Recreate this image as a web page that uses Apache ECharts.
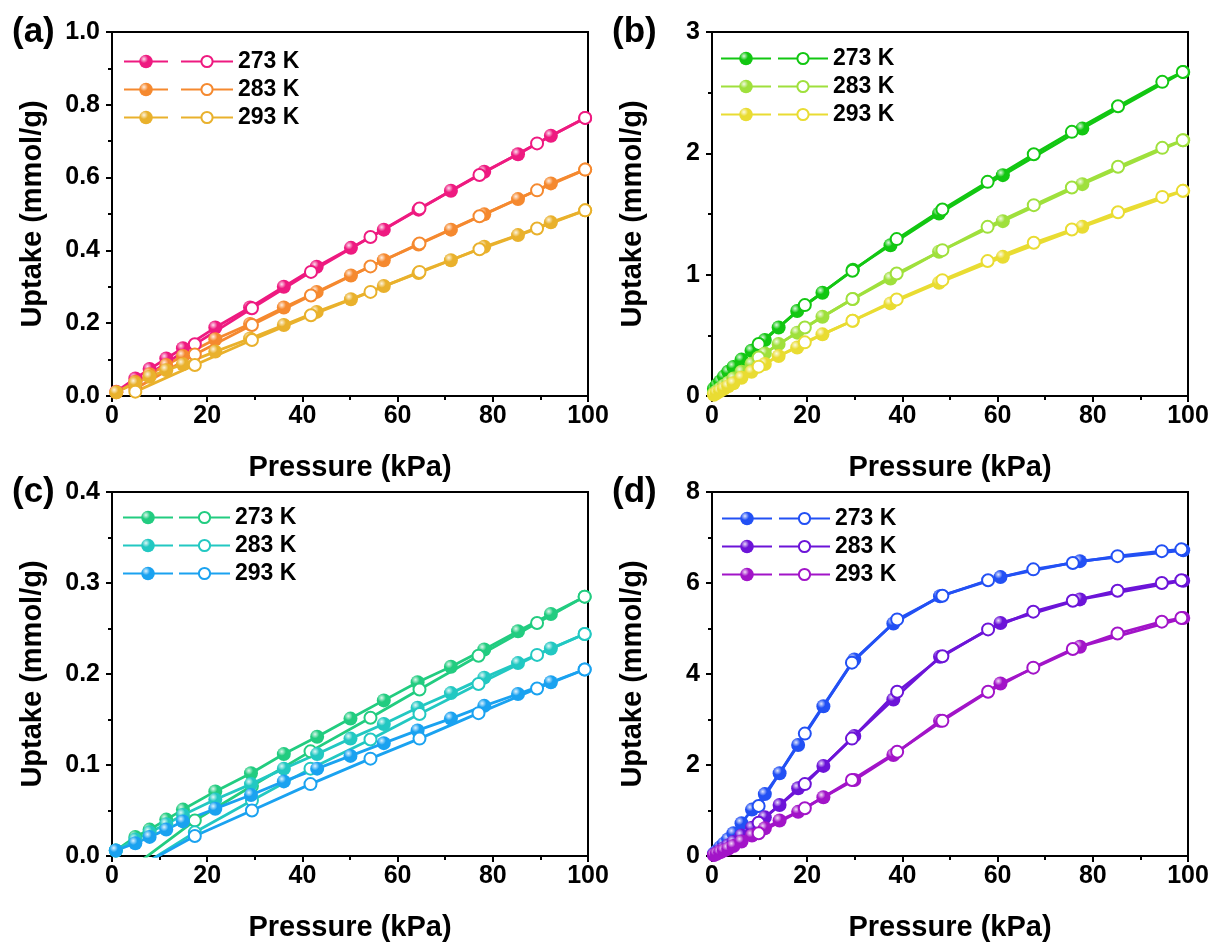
<!DOCTYPE html>
<html>
<head>
<meta charset="utf-8">
<script src="https://cdn.jsdelivr.net/npm/echarts@6/dist/echarts.min.js"></script>
<style>
html, body { margin: 0; padding: 0; background: #fff; }
#chart { width: 1215px; height: 947px; }
</style>
</head>
<body>
<div id="chart"></div>
<script>
var temps = ['273 K', '283 K', '293 K'];

// (a) adsorption / desorption
var a_ads_p = [0.9, 4.9, 7.9, 11.4, 14.9, 21.7, 29.0, 36.1, 43.0, 50.2, 57.1, 64.4, 71.2, 78.2, 85.3, 92.2, 99.4];
var a_ads_273 = [0.012, 0.048, 0.074, 0.103, 0.131, 0.188, 0.243, 0.300, 0.355, 0.407, 0.457, 0.512, 0.564, 0.616, 0.664, 0.715, 0.764];
var a_ads_283 = [0.010, 0.039, 0.060, 0.085, 0.110, 0.156, 0.198, 0.243, 0.286, 0.331, 0.373, 0.416, 0.457, 0.499, 0.541, 0.584, 0.622];
var a_ads_293 = [0.010, 0.035, 0.053, 0.071, 0.087, 0.122, 0.158, 0.195, 0.231, 0.266, 0.302, 0.338, 0.373, 0.410, 0.442, 0.477, 0.510];
var a_des_p = [99.4, 89.3, 77.2, 64.6, 54.3, 41.8, 29.4, 17.4, 4.9];
var a_des_273 = [0.764, 0.694, 0.607, 0.515, 0.437, 0.341, 0.241, 0.142, 0.035];
var a_des_283 = [0.622, 0.565, 0.494, 0.419, 0.356, 0.276, 0.195, 0.114, 0.020];
var a_des_293 = [0.510, 0.460, 0.403, 0.341, 0.286, 0.222, 0.154, 0.085, 0.012];

// (b)
var b_ads_p = [0.4, 1.0, 1.7, 2.5, 3.4, 4.5, 6.2, 8.3, 11.1, 14.0, 17.9, 23.2, 29.6, 37.5, 47.7, 61.1, 77.8, 99.0];
var b_ads_273 = [0.06, 0.09, 0.12, 0.16, 0.20, 0.24, 0.30, 0.373, 0.461, 0.565, 0.700, 0.851, 1.040, 1.243, 1.504, 1.820, 2.204, 2.670];
var b_ads_283 = [0.02, 0.04, 0.06, 0.085, 0.11, 0.145, 0.20, 0.265, 0.351, 0.428, 0.522, 0.653, 0.800, 0.969, 1.189, 1.441, 1.746, 2.108];
var b_ads_293 = [0.01, 0.025, 0.04, 0.06, 0.08, 0.105, 0.15, 0.200, 0.264, 0.329, 0.400, 0.508, 0.620, 0.763, 0.933, 1.147, 1.394, 1.691];
var b_des_p = [98.9, 94.6, 85.3, 75.6, 67.6, 57.9, 48.4, 38.8, 29.5, 19.5, 9.8];
var b_des_273 = [2.671, 2.589, 2.388, 2.177, 1.993, 1.765, 1.537, 1.293, 1.032, 0.749, 0.428];
var b_des_283 = [2.108, 2.045, 1.889, 1.718, 1.573, 1.394, 1.202, 1.010, 0.799, 0.565, 0.318];
var b_des_293 = [1.691, 1.641, 1.515, 1.372, 1.263, 1.112, 0.955, 0.796, 0.620, 0.442, 0.242];

// (c)
var c_ads_p = [0.8, 4.9, 7.9, 11.4, 14.9, 21.7, 29.2, 36.1, 43.1, 50.1, 57.1, 64.2, 71.2, 78.2, 85.3, 92.2, 99.3];
var c_ads_273 = [0.006, 0.021, 0.029, 0.040, 0.051, 0.071, 0.091, 0.112, 0.131, 0.151, 0.171, 0.191, 0.208, 0.227, 0.247, 0.266, 0.285];
var c_ads_283 = [0.006, 0.018, 0.026, 0.035, 0.045, 0.062, 0.079, 0.096, 0.112, 0.129, 0.145, 0.163, 0.179, 0.196, 0.212, 0.228, 0.244];
var c_ads_293 = [0.006, 0.014, 0.021, 0.029, 0.038, 0.052, 0.067, 0.082, 0.096, 0.110, 0.124, 0.138, 0.151, 0.165, 0.178, 0.191, 0.205];
var c_des_p = [99.3, 89.3, 77.0, 64.6, 54.3, 41.7, 29.4, 17.4, 4.9];
var c_des_273 = [0.285, 0.256, 0.220, 0.183, 0.152, 0.115, 0.077, 0.039, -0.010];
var c_des_283 = [0.244, 0.221, 0.189, 0.156, 0.128, 0.096, 0.061, 0.026, -0.015];
var c_des_293 = [0.205, 0.184, 0.157, 0.129, 0.107, 0.079, 0.050, 0.022, -0.014];

// (d)
var d_ads_p = [0.4, 1.0, 1.7, 2.5, 3.4, 4.5, 6.2, 8.4, 11.1, 14.2, 18.1, 23.4, 29.9, 38.1, 47.9, 60.6, 77.3, 99.0];
var d_ads_273 = [0.05, 0.11, 0.19, 0.27, 0.37, 0.50, 0.72, 1.02, 1.36, 1.82, 2.44, 3.29, 4.32, 5.11, 5.71, 6.13, 6.48, 6.72];
var d_ads_283 = [0.03, 0.07, 0.12, 0.17, 0.23, 0.31, 0.45, 0.62, 0.85, 1.12, 1.49, 1.98, 2.64, 3.44, 4.38, 5.12, 5.64, 6.05];
var d_ads_293 = [0.02, 0.05, 0.08, 0.12, 0.16, 0.22, 0.32, 0.45, 0.61, 0.78, 0.97, 1.29, 1.67, 2.22, 2.97, 3.79, 4.60, 5.23];
var d_des_p = [98.6, 94.5, 85.2, 75.8, 67.5, 58.0, 48.4, 38.9, 29.4, 19.5, 9.8];
var d_des_273 = [6.74, 6.70, 6.59, 6.44, 6.30, 6.06, 5.72, 5.20, 4.25, 2.69, 1.10];
var d_des_283 = [6.06, 6.00, 5.83, 5.61, 5.37, 4.98, 4.39, 3.61, 2.58, 1.58, 0.73];
var d_des_293 = [5.23, 5.15, 4.89, 4.55, 4.14, 3.61, 2.97, 2.29, 1.67, 1.05, 0.50];

var panels = [
    {label: '(a)', adsP: a_ads_p, ads: [a_ads_273, a_ads_283, a_ads_293], desP: a_des_p, des: [a_des_273, a_des_283, a_des_293],
     colors: ['#EE1A80', '#F5892F', '#E9B12C'], yMax: 1.0, yStep: 0.2, dec: 1},
    {label: '(b)', adsP: b_ads_p, ads: [b_ads_273, b_ads_283, b_ads_293], desP: b_des_p, des: [b_des_273, b_des_283, b_des_293],
     colors: ['#12C712', '#9FE03C', '#E9DC32'], yMax: 3, yStep: 1, dec: 0},
    {label: '(c)', adsP: c_ads_p, ads: [c_ads_273, c_ads_283, c_ads_293], desP: c_des_p, des: [c_des_273, c_des_283, c_des_293],
     colors: ['#22CC80', '#22C8C2', '#1AA2F0'], yMax: 0.4, yStep: 0.1, dec: 1},
    {label: '(d)', adsP: d_ads_p, ads: [d_ads_273, d_ads_283, d_ads_293], desP: d_des_p, des: [d_des_273, d_des_283, d_des_293],
     colors: ['#2250F4', '#6C14D8', '#A214C8'], yMax: 8, yStep: 2, dec: 0}
];

// layout of the four plot boxes
var boxes = [
    {left: 112, top: 32, lx1: 123, lx2: 180, ly: 50, lw1: 44, lw2: 52},
    {left: 712, top: 32, lx1: 720, lx2: 777, ly: 47, lw1: 50, lw2: 50},
    {left: 112, top: 492, lx1: 122, lx2: 178, ly: 506, lw1: 50, lw2: 51},
    {left: 712, top: 492, lx1: 721, lx2: 778, ly: 507, lw1: 50, lw2: 51}
];

var FONT = 'Arial, "Liberation Sans", sans-serif';

function pairs(xs, ys) {
    return xs.map(function (x, i) { return [x, ys[i]]; });
}

function lighten(hex, t) {
    var r = parseInt(hex.substr(1, 2), 16), g = parseInt(hex.substr(3, 2), 16), b = parseInt(hex.substr(5, 2), 16);
    r = Math.round(r + (255 - r) * t); g = Math.round(g + (255 - g) * t); b = Math.round(b + (255 - b) * t);
    return 'rgb(' + r + ',' + g + ',' + b + ')';
}

// shaded ball look of the filled markers
function sphere(hex) {
    return {
        type: 'radial', x: 0.35, y: 0.32, r: 0.75,
        colorStops: [
            {offset: 0, color: lighten(hex, 0.85)},
            {offset: 0.4, color: hex},
            {offset: 1, color: hex}
        ]
    };
}

var grids = [], xAxes = [], yAxes = [], series = [], legends = [], titles = [];

panels.forEach(function (p, k) {
    var bx = boxes[k];
    grids.push({left: bx.left, top: bx.top, width: 476, height: 364, show: true, borderColor: '#000', borderWidth: 2, backgroundColor: 'transparent'});
    xAxes.push({
        gridIndex: k, type: 'value', min: 0, max: 100, interval: 20,
        name: 'Pressure (kPa)', nameLocation: 'middle', nameGap: 57,
        nameTextStyle: {fontFamily: FONT, fontSize: 29, fontWeight: 'bold', color: '#000'},
        axisLine: {lineStyle: {color: '#000', width: 2}},
        axisTick: {inside: false, length: 6, lineStyle: {width: 2, color: '#000'}},
        minorTick: {show: true, splitNumber: 2, length: 4, lineStyle: {width: 2, color: '#000'}},
        axisLabel: {fontFamily: FONT, fontSize: 25, fontWeight: 'bold', color: '#000', margin: 8},
        splitLine: {show: false}
    });
    yAxes.push({
        gridIndex: k, type: 'value', min: 0, max: p.yMax, interval: p.yStep,
        name: 'Uptake (mmol/g)', nameLocation: 'middle', nameGap: 65,
        nameTextStyle: {fontFamily: FONT, fontSize: 29, fontWeight: 'bold', color: '#000'},
        axisLine: {lineStyle: {color: '#000', width: 2}},
        axisTick: {inside: false, length: 6, lineStyle: {width: 2, color: '#000'}},
        minorTick: {show: true, splitNumber: 2, length: 4, lineStyle: {width: 2, color: '#000'}},
        axisLabel: {fontFamily: FONT, fontSize: 25, fontWeight: 'bold', color: '#000', margin: 12,
            formatter: (function (d) { return function (v) { return v.toFixed(d); }; })(p.dec)},
        splitLine: {show: false}
    });
    titles.push({text: p.label, left: bx.left - 100, top: bx.top - 17, padding: 0,
        textStyle: {fontFamily: FONT, fontSize: 35, fontWeight: 'bold', color: '#000'}});

    var adsNames = [], desNames = [];
    temps.forEach(function (t, j) {
        var c = p.colors[j];
        var an = k + 'a|' + t, dn = k + 'd|' + t;
        adsNames.push(an); desNames.push(dn);
        series.push({
            name: an, type: 'line', xAxisIndex: k, yAxisIndex: k,
            data: pairs(p.adsP, p.ads[j]),
            symbol: 'circle', symbolSize: 14, showAllSymbol: true, clip: true,
            itemStyle: {color: sphere(c)},
            lineStyle: {color: c, width: 2.8}
        });
        series.push({
            name: dn, type: 'line', xAxisIndex: k, yAxisIndex: k,
            data: pairs(p.desP, p.des[j]),
            symbol: 'emptyCircle', symbolSize: 12, showAllSymbol: true, clip: true,
            itemStyle: {color: c, borderColor: c, borderWidth: 2},
            lineStyle: {color: c, width: 2.8}
        });
    });
    var legText = {fontFamily: FONT, fontSize: 23, fontWeight: 'bold', color: '#000', lineHeight: 22};
    legends.push({
        data: adsNames, orient: 'vertical', left: bx.lx1, top: bx.ly, padding: 0,
        itemWidth: bx.lw1, itemHeight: 17, itemGap: 5, selectedMode: false,
        formatter: function () { return ' '; }, textStyle: legText
    });
    legends.push({
        data: desNames, orient: 'vertical', left: bx.lx2, top: bx.ly, padding: 0,
        itemWidth: bx.lw2, itemHeight: 14, itemGap: 5, selectedMode: false,
        formatter: function (n) { return n.split('|')[1]; }, textStyle: legText
    });
});

var chart = echarts.init(document.getElementById('chart'));
chart.setOption({
    backgroundColor: '#fff',
    animation: false,
    title: titles,
    grid: grids,
    xAxis: xAxes,
    yAxis: yAxes,
    legend: legends,
    series: series
});
</script>
</body>
</html>
